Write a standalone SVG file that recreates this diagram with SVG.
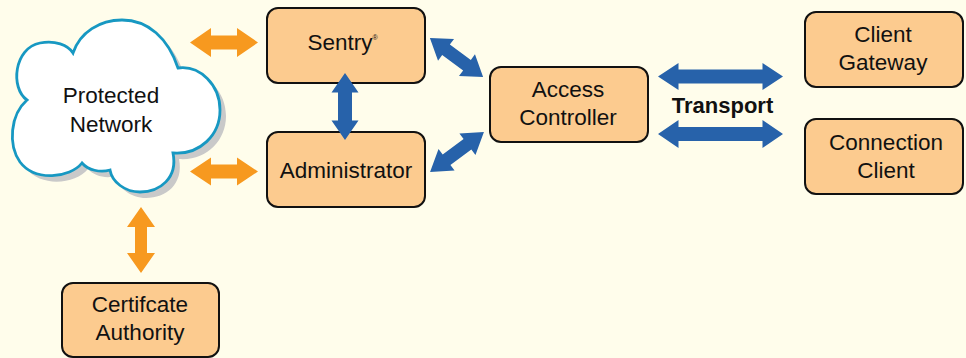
<svg xmlns="http://www.w3.org/2000/svg" width="966" height="358" viewBox="0 0 966 358">
<style>
.box{fill:#FCCB8F;stroke:#111;stroke-width:2}
.t{font-family:"Liberation Sans",Arial,sans-serif;font-size:22.5px;fill:#111;text-anchor:middle}
.b{font-weight:bold;font-size:22px}
.or{fill:#F7991F}
.bl{fill:#2762AA}
</style>
<rect width="966" height="358" fill="#FFFDEB"/>
<g id="cloud">
<path transform="translate(6,6)" fill="#C9C9C9" d="M27,100 C10,88 14,48 40,43 C55,40 68,45 73,53 C80,32 100,20 122,20 C148,20 168,38 178,68 C200,65 220,85 220,110 C220,135 200,155 173,153 C178,178 160,192 140,192 C125,192 112,182 110,170 C100,173 88,170 82,163 C70,178 35,182 20,162 C8,145 10,115 27,100 Z"/>
<path fill="#FFFFFF" stroke="#1798C2" stroke-width="2.8" d="M27,100 C10,88 14,48 40,43 C55,40 68,45 73,53 C80,32 100,20 122,20 C148,20 168,38 178,68 C200,65 220,85 220,110 C220,135 200,155 173,153 C178,178 160,192 140,192 C125,192 112,182 110,170 C100,173 88,170 82,163 C70,178 35,182 20,162 C8,145 10,115 27,100 Z"/>
<text class="t" x="111" y="103">Protected</text>
<text class="t" x="111" y="132">Network</text>
</g>
<g id="sentry">
<rect class="box" x="267" y="8" width="158" height="75" rx="11"/>
<text class="t" x="342.5" y="50">Sentry<tspan font-size="7" dy="-10">®</tspan></text>
</g>
<g id="administrator">
<rect class="box" x="267" y="132" width="158" height="75" rx="11"/>
<text class="t" x="346" y="178">Administrator</text>
</g>
<g id="access-controller">
<rect class="box" x="490" y="67" width="158" height="75" rx="11"/>
<text class="t" x="568" y="97">Access</text>
<text class="t" x="568" y="125">Controller</text>
</g>
<g id="client-gateway">
<rect class="box" x="805" y="12" width="158" height="75" rx="11"/>
<text class="t" x="883" y="42">Client</text>
<text class="t" x="883" y="70">Gateway</text>
</g>
<g id="connection-client">
<rect class="box" x="805" y="119" width="158" height="75" rx="11"/>
<text class="t" x="886" y="150">Connection</text>
<text class="t" x="886" y="178">Client</text>
</g>
<g id="certificate-authority">
<rect class="box" x="62" y="283" width="157" height="74" rx="11"/>
<text class="t" x="140" y="312">Certifcate</text>
<text class="t" x="140" y="340">Authority</text>
</g>
<g id="connectors">
<path class="or" transform="translate(224,42.5)" d="M-34,0 L-13,-14.5 L-13,-7 L13,-7 L13,-14.5 L34,0 L13,14.5 L13,7 L-13,7 L-13,14.5 Z"/>
<path class="or" transform="translate(224,171.5)" d="M-34,0 L-13,-14 L-13,-7 L13,-7 L13,-14 L34,0 L13,14 L13,7 L-13,7 L-13,14 Z"/>
<path class="or" transform="translate(141,240) rotate(90)" d="M-33,0 L-13,-14 L-13,-6 L13,-6 L13,-14 L33,0 L13,14 L13,6 L-13,6 L-13,14 Z"/>
<path class="bl" transform="translate(345,106.5) rotate(90)" d="M-33.5,0 L-14,-13.5 L-14,-7 L14,-7 L14,-13.5 L33.5,0 L14,13.5 L14,7 L-14,7 L-14,13.5 Z"/>
<path class="bl" transform="translate(720.5,76.5)" d="M-62.5,0 L-42,-13.5 L-42,-7 L42,-7 L42,-13.5 L62.5,0 L42,13.5 L42,7 L-42,7 L-42,13.5 Z"/>
<path class="bl" transform="translate(720.5,134)" d="M-62.5,0 L-42,-14 L-42,-7 L42,-7 L42,-14 L62.5,0 L42,14 L42,7 L-42,7 L-42,14 Z"/>
<path class="bl" transform="translate(456.5,57.5) rotate(36.3)" d="M-33,0 L-13,-13.5 L-13,-6.5 L13,-6.5 L13,-13.5 L33,0 L13,13.5 L13,6.5 L-13,6.5 L-13,13.5 Z"/>
<path class="bl" transform="translate(457,152) rotate(-36.5)" d="M-33.5,0 L-13,-13.5 L-13,-6.5 L13,-6.5 L13,-13.5 L33.5,0 L13,13.5 L13,6.5 L-13,6.5 L-13,13.5 Z"/>
</g>
<text class="t b" x="722.5" y="113">Transport</text>
</svg>
